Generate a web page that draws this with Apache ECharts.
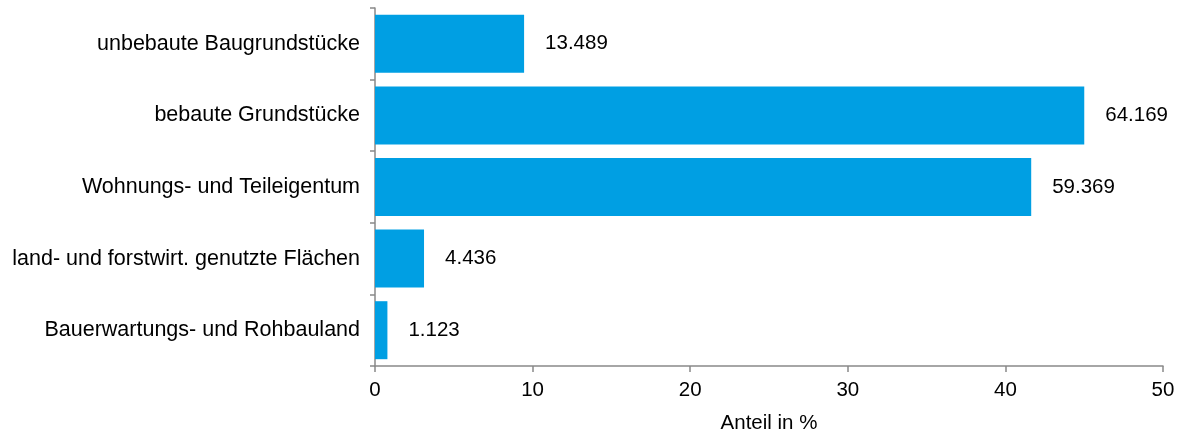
<!DOCTYPE html>
<html>
<head>
<meta charset="utf-8">
<script src="https://cdn.jsdelivr.net/npm/echarts@6/dist/echarts.min.js"></script>
<style>
  html, body { margin: 0; padding: 0; background: #fff; }
  #chart { width: 1184px; height: 434px; }
</style>
</head>
<body>
<div id="chart"></div>
<script>
// Kategorien der Grundstücksarten (von oben nach unten)
const categories = [
  'unbebaute Baugrundstücke',
  'bebaute Grundstücke',
  'Wohnungs- und Teileigentum',
  'land- und forstwirt. genutzte Flächen',
  'Bauerwartungs- und Rohbauland'
];
// Anzahl der Kauffälle je Kategorie
const counts = [13489, 64169, 59369, 4436, 1123];
// Achsenbeschriftung der Werteachse
const xTicks = [0, 10, 20, 30, 40, 50];
const xTitle = 'Anteil in %';

// Anteil in % an der Gesamtzahl
const total = counts.reduce((a, b) => a + b, 0);
const shares = counts.map(c => c / total * 100);

const fmt = n => String(n).replace(/\B(?=(\d{3})+(?!\d))/g, '.');

const axisGray = '#898989';
const font = 'Liberation Sans, Arial, sans-serif';
const fs = 20.5;

const chart = echarts.init(document.getElementById('chart'), null, { renderer: 'canvas' });
chart.setOption({
  animation: false,
  grid: { left: 375, right: 21, top: 8, bottom: 68, containLabel: false, outerBoundsMode: 'none' },
  xAxis: {
    type: 'value',
    min: xTicks[0],
    max: xTicks[xTicks.length - 1],
    interval: xTicks[1] - xTicks[0],
    name: xTitle,
    nameLocation: 'middle',
    nameGap: 47,
    nameTextStyle: { color: '#000', fontSize: fs, fontFamily: font },
    axisLine: { show: true, lineStyle: { color: axisGray, width: 1.5 } },
    axisTick: { show: true, length: 6, lineStyle: { color: axisGray, width: 1.5 } },
    axisLabel: { color: '#000', fontSize: fs, fontFamily: font, margin: 14 },
    splitLine: { show: false }
  },
  yAxis: {
    type: 'category',
    inverse: true,
    data: categories,
    axisLine: { show: true, lineStyle: { color: axisGray, width: 1.5 } },
    axisTick: { show: true, length: 5, lineStyle: { color: axisGray, width: 1.5 } },
    axisLabel: { color: '#000', fontSize: 21.5, fontFamily: font, margin: 15 }
  },
  series: [{
    type: 'bar',
    data: shares,
    barCategoryGap: '19%',
    itemStyle: { color: '#009FE3' },
    label: {
      show: true,
      position: 'right',
      distance: 21,
      color: '#000',
      fontSize: fs,
      fontFamily: font,
      formatter: p => fmt(counts[p.dataIndex])
    }
  }]
});
</script>
</body>
</html>
